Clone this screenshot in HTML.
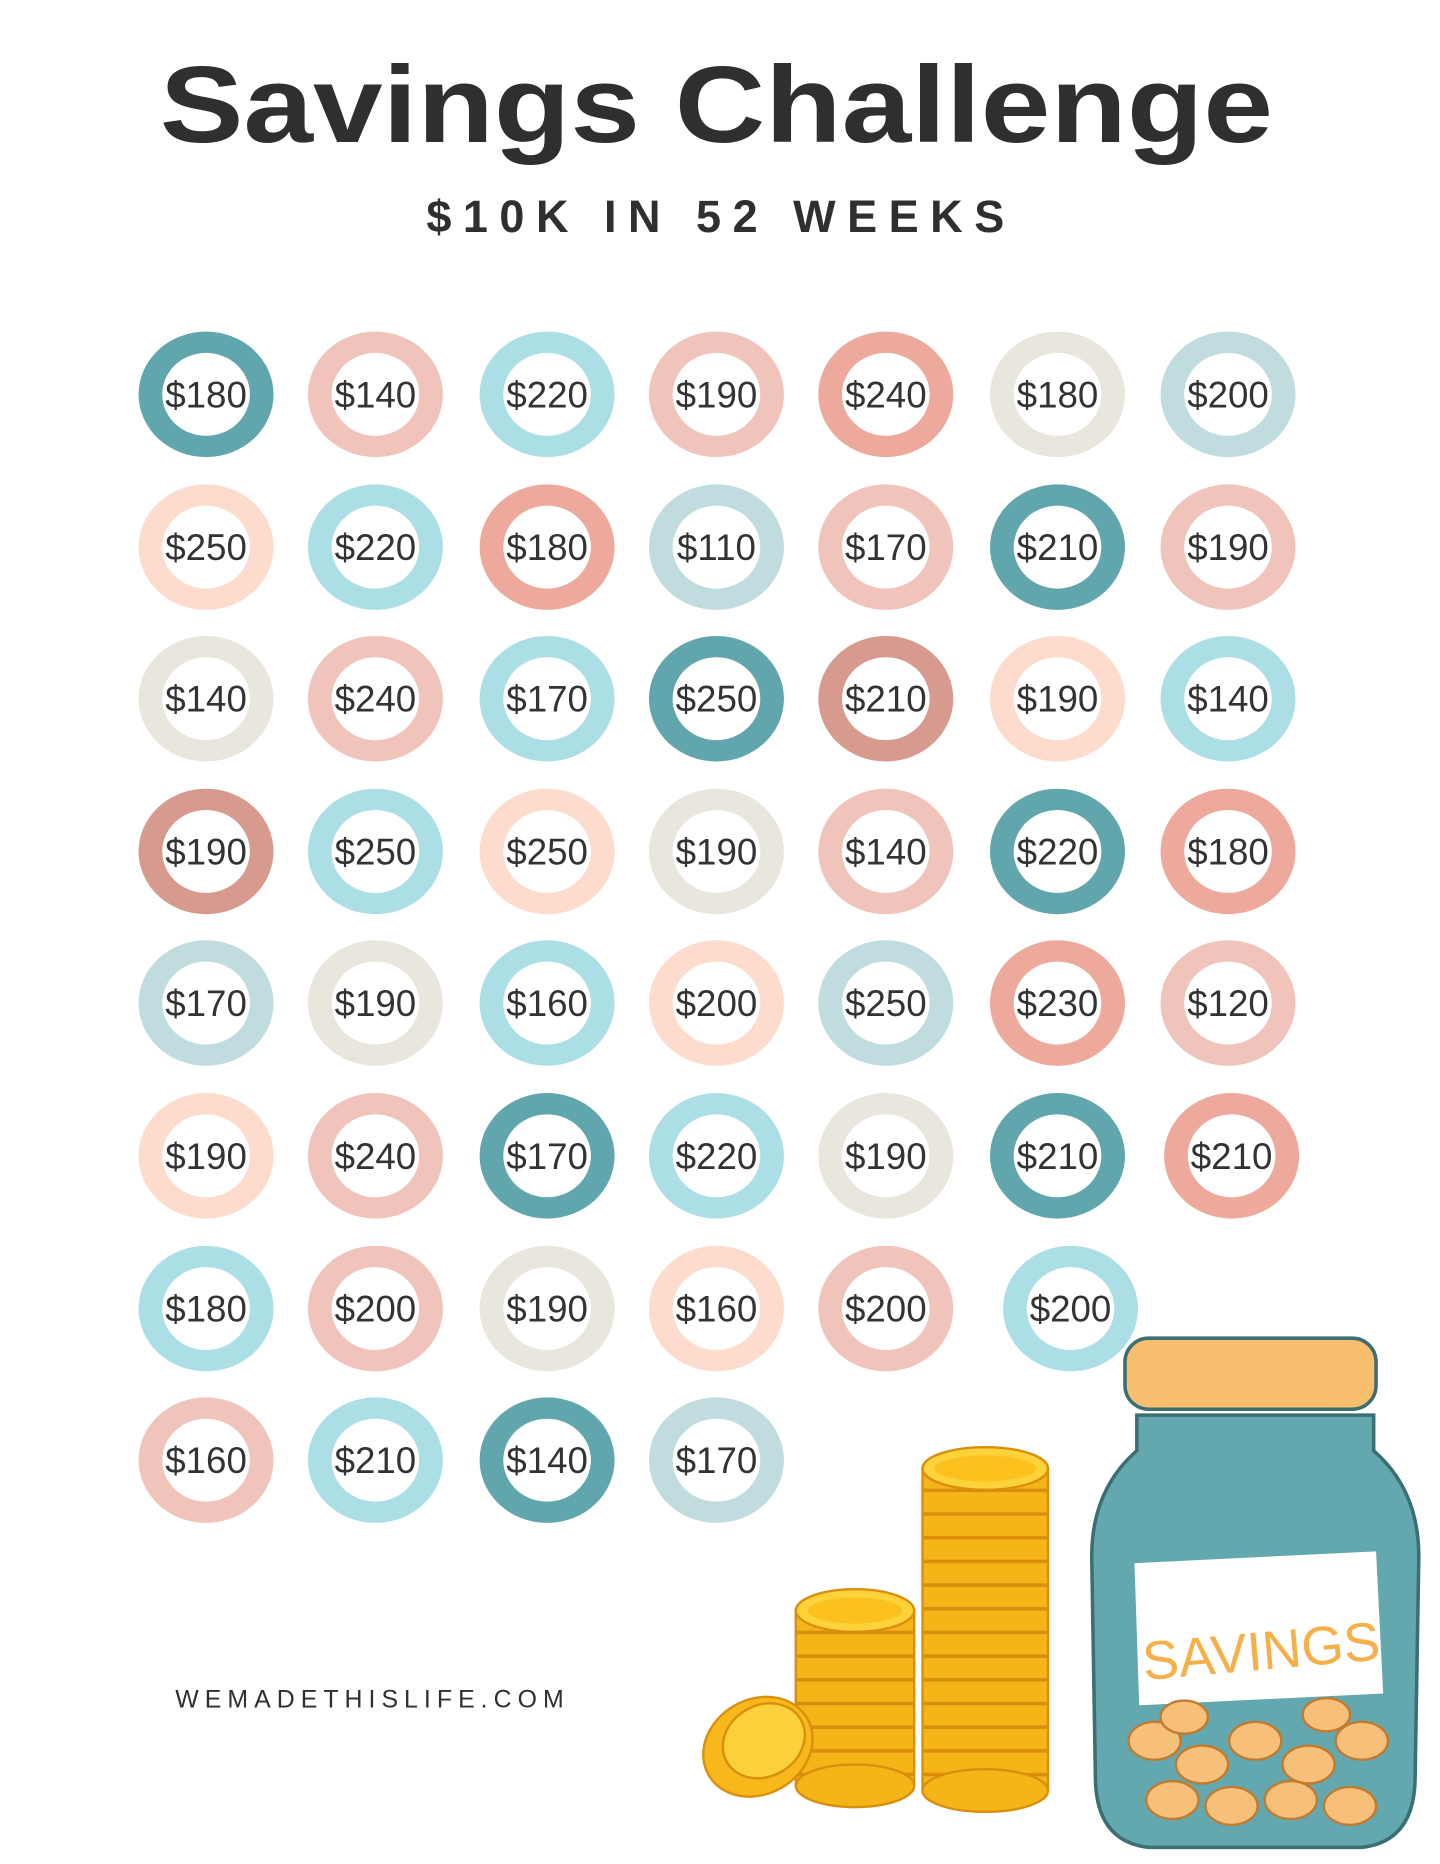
<!DOCTYPE html>
<html><head><meta charset="utf-8"><style>
html,body{margin:0;padding:0;background:#fff;}
svg{display:block;}
.c text{text-anchor:middle;font-size:31px;fill:#333;}
.w{fill:#fff;}
.t{fill:#62a6ad}.p{fill:#f0c3bb}.l{fill:#acdfe5}.s{fill:#eda99b}.b{fill:#e9e6dd}.g{fill:#c1dcdf}.e{fill:#fddbcd}.d{fill:#d79a8e}
</style></head><body>
<svg width="1440" height="1864" viewBox="0 0 1216 1574" xmlns="http://www.w3.org/2000/svg" font-family="Liberation Sans, sans-serif">
<defs>
<pattern id="st" x="0" y="0" width="10" height="20" patternUnits="userSpaceOnUse">
<rect width="10" height="20" fill="#f5b418"/><rect y="17" width="10" height="3" fill="#d98f0c"/>
</pattern>
</defs>
<rect width="1216" height="1574" fill="#fff"/>
<text x="605" y="120" text-anchor="middle" font-size="92" font-weight="bold" fill="#2f2f2f" textLength="940" lengthAdjust="spacingAndGlyphs">Savings Challenge</text>
<text x="604" y="196" text-anchor="middle" font-size="38" font-weight="bold" fill="#2f2f2f" textLength="488" lengthAdjust="spacing">$10K IN 52 WEEKS</text>
<text x="148" y="1442" font-size="21" fill="#2f2f2f" textLength="328" lengthAdjust="spacing">WEMADETHISLIFE.COM</text>

<g class="c">
<g transform="translate(174 333)"><ellipse rx="57" ry="53" class="t"/><ellipse rx="37" ry="35" class="w"/><text y="11">$180</text></g>
<g transform="translate(317 333)"><ellipse rx="57" ry="53" class="p"/><ellipse rx="37" ry="35" class="w"/><text y="11">$140</text></g>
<g transform="translate(462 333)"><ellipse rx="57" ry="53" class="l"/><ellipse rx="37" ry="35" class="w"/><text y="11">$220</text></g>
<g transform="translate(605 333)"><ellipse rx="57" ry="53" class="p"/><ellipse rx="37" ry="35" class="w"/><text y="11">$190</text></g>
<g transform="translate(748 333)"><ellipse rx="57" ry="53" class="s"/><ellipse rx="37" ry="35" class="w"/><text y="11">$240</text></g>
<g transform="translate(893 333)"><ellipse rx="57" ry="53" class="b"/><ellipse rx="37" ry="35" class="w"/><text y="11">$180</text></g>
<g transform="translate(1037 333)"><ellipse rx="57" ry="53" class="g"/><ellipse rx="37" ry="35" class="w"/><text y="11">$200</text></g>

<g transform="translate(174 462)"><ellipse rx="57" ry="53" class="e"/><ellipse rx="37" ry="35" class="w"/><text y="11">$250</text></g>
<g transform="translate(317 462)"><ellipse rx="57" ry="53" class="l"/><ellipse rx="37" ry="35" class="w"/><text y="11">$220</text></g>
<g transform="translate(462 462)"><ellipse rx="57" ry="53" class="s"/><ellipse rx="37" ry="35" class="w"/><text y="11">$180</text></g>
<g transform="translate(605 462)"><ellipse rx="57" ry="53" class="g"/><ellipse rx="37" ry="35" class="w"/><text y="11">$110</text></g>
<g transform="translate(748 462)"><ellipse rx="57" ry="53" class="p"/><ellipse rx="37" ry="35" class="w"/><text y="11">$170</text></g>
<g transform="translate(893 462)"><ellipse rx="57" ry="53" class="t"/><ellipse rx="37" ry="35" class="w"/><text y="11">$210</text></g>
<g transform="translate(1037 462)"><ellipse rx="57" ry="53" class="p"/><ellipse rx="37" ry="35" class="w"/><text y="11">$190</text></g>

<g transform="translate(174 590)"><ellipse rx="57" ry="53" class="b"/><ellipse rx="37" ry="35" class="w"/><text y="11">$140</text></g>
<g transform="translate(317 590)"><ellipse rx="57" ry="53" class="p"/><ellipse rx="37" ry="35" class="w"/><text y="11">$240</text></g>
<g transform="translate(462 590)"><ellipse rx="57" ry="53" class="l"/><ellipse rx="37" ry="35" class="w"/><text y="11">$170</text></g>
<g transform="translate(605 590)"><ellipse rx="57" ry="53" class="t"/><ellipse rx="37" ry="35" class="w"/><text y="11">$250</text></g>
<g transform="translate(748 590)"><ellipse rx="57" ry="53" class="d"/><ellipse rx="37" ry="35" class="w"/><text y="11">$210</text></g>
<g transform="translate(893 590)"><ellipse rx="57" ry="53" class="e"/><ellipse rx="37" ry="35" class="w"/><text y="11">$190</text></g>
<g transform="translate(1037 590)"><ellipse rx="57" ry="53" class="l"/><ellipse rx="37" ry="35" class="w"/><text y="11">$140</text></g>

<g transform="translate(174 719)"><ellipse rx="57" ry="53" class="d"/><ellipse rx="37" ry="35" class="w"/><text y="11">$190</text></g>
<g transform="translate(317 719)"><ellipse rx="57" ry="53" class="l"/><ellipse rx="37" ry="35" class="w"/><text y="11">$250</text></g>
<g transform="translate(462 719)"><ellipse rx="57" ry="53" class="e"/><ellipse rx="37" ry="35" class="w"/><text y="11">$250</text></g>
<g transform="translate(605 719)"><ellipse rx="57" ry="53" class="b"/><ellipse rx="37" ry="35" class="w"/><text y="11">$190</text></g>
<g transform="translate(748 719)"><ellipse rx="57" ry="53" class="p"/><ellipse rx="37" ry="35" class="w"/><text y="11">$140</text></g>
<g transform="translate(893 719)"><ellipse rx="57" ry="53" class="t"/><ellipse rx="37" ry="35" class="w"/><text y="11">$220</text></g>
<g transform="translate(1037 719)"><ellipse rx="57" ry="53" class="s"/><ellipse rx="37" ry="35" class="w"/><text y="11">$180</text></g>

<g transform="translate(174 847)"><ellipse rx="57" ry="53" class="g"/><ellipse rx="37" ry="35" class="w"/><text y="11">$170</text></g>
<g transform="translate(317 847)"><ellipse rx="57" ry="53" class="b"/><ellipse rx="37" ry="35" class="w"/><text y="11">$190</text></g>
<g transform="translate(462 847)"><ellipse rx="57" ry="53" class="l"/><ellipse rx="37" ry="35" class="w"/><text y="11">$160</text></g>
<g transform="translate(605 847)"><ellipse rx="57" ry="53" class="e"/><ellipse rx="37" ry="35" class="w"/><text y="11">$200</text></g>
<g transform="translate(748 847)"><ellipse rx="57" ry="53" class="g"/><ellipse rx="37" ry="35" class="w"/><text y="11">$250</text></g>
<g transform="translate(893 847)"><ellipse rx="57" ry="53" class="s"/><ellipse rx="37" ry="35" class="w"/><text y="11">$230</text></g>
<g transform="translate(1037 847)"><ellipse rx="57" ry="53" class="p"/><ellipse rx="37" ry="35" class="w"/><text y="11">$120</text></g>

<g transform="translate(174 976)"><ellipse rx="57" ry="53" class="e"/><ellipse rx="37" ry="35" class="w"/><text y="11">$190</text></g>
<g transform="translate(317 976)"><ellipse rx="57" ry="53" class="p"/><ellipse rx="37" ry="35" class="w"/><text y="11">$240</text></g>
<g transform="translate(462 976)"><ellipse rx="57" ry="53" class="t"/><ellipse rx="37" ry="35" class="w"/><text y="11">$170</text></g>
<g transform="translate(605 976)"><ellipse rx="57" ry="53" class="l"/><ellipse rx="37" ry="35" class="w"/><text y="11">$220</text></g>
<g transform="translate(748 976)"><ellipse rx="57" ry="53" class="b"/><ellipse rx="37" ry="35" class="w"/><text y="11">$190</text></g>
<g transform="translate(893 976)"><ellipse rx="57" ry="53" class="t"/><ellipse rx="37" ry="35" class="w"/><text y="11">$210</text></g>
<g transform="translate(1040 976)"><ellipse rx="57" ry="53" class="s"/><ellipse rx="37" ry="35" class="w"/><text y="11">$210</text></g>

<g transform="translate(174 1105)"><ellipse rx="57" ry="53" class="l"/><ellipse rx="37" ry="35" class="w"/><text y="11">$180</text></g>
<g transform="translate(317 1105)"><ellipse rx="57" ry="53" class="p"/><ellipse rx="37" ry="35" class="w"/><text y="11">$200</text></g>
<g transform="translate(462 1105)"><ellipse rx="57" ry="53" class="b"/><ellipse rx="37" ry="35" class="w"/><text y="11">$190</text></g>
<g transform="translate(605 1105)"><ellipse rx="57" ry="53" class="e"/><ellipse rx="37" ry="35" class="w"/><text y="11">$160</text></g>
<g transform="translate(748 1105)"><ellipse rx="57" ry="53" class="p"/><ellipse rx="37" ry="35" class="w"/><text y="11">$200</text></g>
<g transform="translate(904 1105)"><ellipse rx="57" ry="53" class="l"/><ellipse rx="37" ry="35" class="w"/><text y="11">$200</text></g>

<g transform="translate(174 1233)"><ellipse rx="57" ry="53" class="p"/><ellipse rx="37" ry="35" class="w"/><text y="11">$160</text></g>
<g transform="translate(317 1233)"><ellipse rx="57" ry="53" class="l"/><ellipse rx="37" ry="35" class="w"/><text y="11">$210</text></g>
<g transform="translate(462 1233)"><ellipse rx="57" ry="53" class="t"/><ellipse rx="37" ry="35" class="w"/><text y="11">$140</text></g>
<g transform="translate(605 1233)"><ellipse rx="57" ry="53" class="g"/><ellipse rx="37" ry="35" class="w"/><text y="11">$170</text></g>
</g>

<!-- coins -->
<g stroke="#d98f0c" stroke-width="2">
<rect x="672" y="1360" width="100" height="148" fill="url(#st)"/>
<ellipse cx="722" cy="1508" rx="50" ry="18" fill="#f5b418"/>
<ellipse cx="722" cy="1360" rx="50" ry="18" fill="#fdd23b"/>
<rect x="779" y="1240" width="106" height="272" fill="url(#st)"/>
<ellipse cx="832" cy="1512" rx="53" ry="18" fill="#f5b418"/>
<ellipse cx="832" cy="1240" rx="53" ry="18" fill="#fdd23b"/>
<ellipse cx="640" cy="1475" rx="48" ry="40" fill="#f7b81c" transform="rotate(-30 640 1475)"/>
<ellipse cx="645" cy="1470" rx="36" ry="30" fill="#fbd03a" transform="rotate(-30 645 1470)"/>
</g>
<ellipse cx="722" cy="1360" rx="40" ry="11" fill="#fbc21f"/>
<ellipse cx="832" cy="1240" rx="43" ry="11" fill="#fbc21f"/>

<!-- jar -->
<path d="M960 1195 L1160 1195 L1160 1225 Q1200 1260 1198 1320 L1195 1500 Q1195 1555 1150 1560 L970 1560 Q925 1555 925 1500 L922 1320 Q920 1260 960 1225 Z" fill="#63a8ae" stroke="#3b6f74" stroke-width="3"/>
<rect x="950" y="1130" width="212" height="60" rx="20" fill="#f8bf6e" stroke="#3b6f74" stroke-width="3"/>
<path d="M958 1320 L1162 1310 L1168 1430 L962 1440 Z" fill="#fff"/>
<g fill="#f6c07a" stroke="#c07b30" stroke-width="2">
<ellipse cx="975" cy="1470" rx="22" ry="16"/><ellipse cx="1015" cy="1490" rx="22" ry="16"/><ellipse cx="1060" cy="1470" rx="22" ry="16"/><ellipse cx="1105" cy="1490" rx="22" ry="16"/><ellipse cx="1150" cy="1470" rx="22" ry="16"/>
<ellipse cx="990" cy="1520" rx="22" ry="16"/><ellipse cx="1040" cy="1525" rx="22" ry="16"/><ellipse cx="1090" cy="1520" rx="22" ry="16"/><ellipse cx="1140" cy="1525" rx="22" ry="16"/>
<ellipse cx="1000" cy="1450" rx="20" ry="14"/><ellipse cx="1120" cy="1448" rx="20" ry="14"/>
</g>
<text x="1065" y="1410" text-anchor="middle" font-size="46" fill="#f5b04a" transform="rotate(-5 1065 1395)">SAVINGS</text>
</svg>
</body></html>
